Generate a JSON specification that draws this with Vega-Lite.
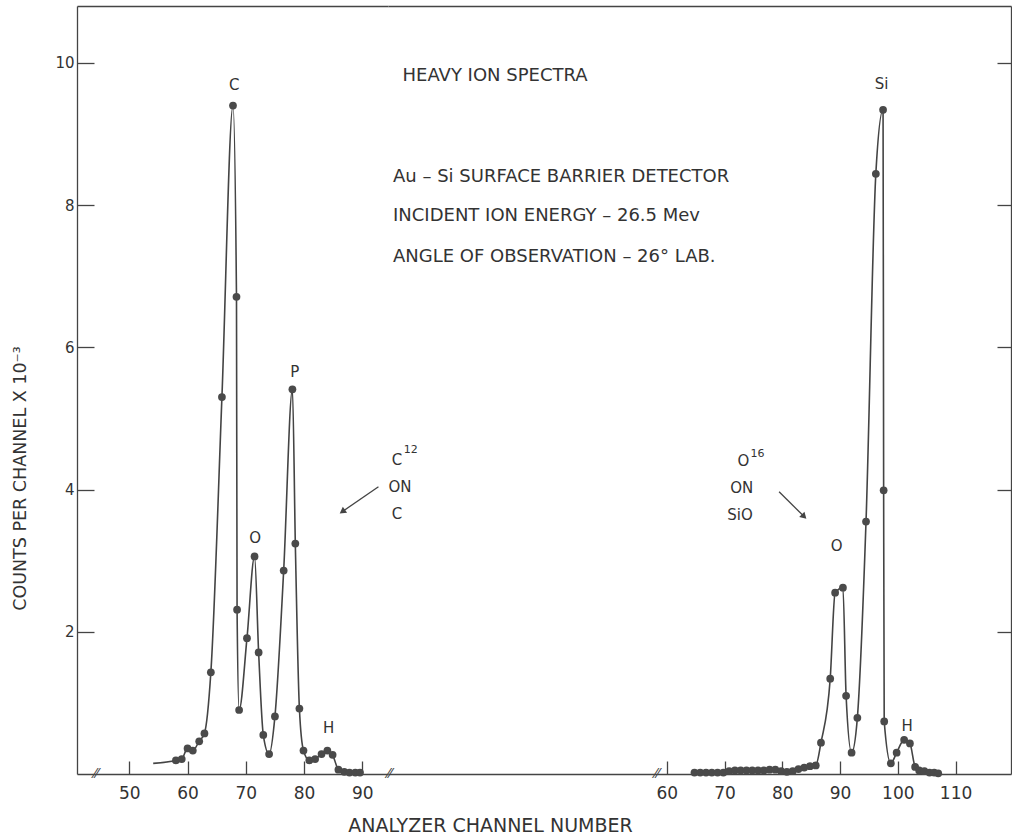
{
  "$schema": "https://vega.github.io/schema/vega-lite/v6.json",
  "background": "white",
  "padding": {"left": 11, "top": 6, "right": 0, "bottom": 0},
  "bounds": "flush",
  "spacing": 0,
  "config": {
    "view": {"stroke": null},
    "font": "DejaVu Sans",
    "axis": {"domainColor": "#444", "tickColor": "#444", "labelColor": "#333", "titleColor": "#333", "grid": false, "domainWidth": 1.3, "tickWidth": 1.3, "labelFont": "DejaVu Sans"}
  },
  "datasets": {
    "c12": [
      {"channel": 54.1, "counts": 0.15}, {"channel": 58.0, "counts": 0.19}, {"channel": 59.0, "counts": 0.21},
      {"channel": 60.0, "counts": 0.36}, {"channel": 60.9, "counts": 0.33}, {"channel": 62.0, "counts": 0.46},
      {"channel": 62.9, "counts": 0.57}, {"channel": 64.0, "counts": 1.43}, {"channel": 65.9, "counts": 5.30},
      {"channel": 67.8, "counts": 9.40}, {"channel": 68.4, "counts": 6.71}, {"channel": 68.5, "counts": 2.31},
      {"channel": 68.85, "counts": 0.90}, {"channel": 70.2, "counts": 1.91}, {"channel": 71.5, "counts": 3.06},
      {"channel": 72.2, "counts": 1.71}, {"channel": 73.0, "counts": 0.55}, {"channel": 74.0, "counts": 0.28},
      {"channel": 75.0, "counts": 0.81}, {"channel": 76.5, "counts": 2.86}, {"channel": 78.0, "counts": 5.41},
      {"channel": 78.5, "counts": 3.24}, {"channel": 79.2, "counts": 0.92}, {"channel": 79.9, "counts": 0.33},
      {"channel": 80.9, "counts": 0.19}, {"channel": 81.9, "counts": 0.21}, {"channel": 83.0, "counts": 0.28},
      {"channel": 84.0, "counts": 0.33}, {"channel": 84.9, "counts": 0.27}, {"channel": 85.9, "counts": 0.06},
      {"channel": 86.9, "counts": 0.03}, {"channel": 87.8, "counts": 0.02}, {"channel": 88.8, "counts": 0.02},
      {"channel": 89.6, "counts": 0.02}
    ],
    "o16": [
      {"channel": 64.8, "counts": 0.02}, {"channel": 65.8, "counts": 0.02}, {"channel": 66.8, "counts": 0.02},
      {"channel": 67.8, "counts": 0.02}, {"channel": 68.8, "counts": 0.02}, {"channel": 69.8, "counts": 0.02},
      {"channel": 70.8, "counts": 0.04}, {"channel": 71.8, "counts": 0.05}, {"channel": 72.8, "counts": 0.05},
      {"channel": 73.8, "counts": 0.05}, {"channel": 74.8, "counts": 0.05}, {"channel": 75.8, "counts": 0.05},
      {"channel": 76.8, "counts": 0.05}, {"channel": 77.8, "counts": 0.06}, {"channel": 78.8, "counts": 0.06},
      {"channel": 79.8, "counts": 0.04}, {"channel": 80.8, "counts": 0.03}, {"channel": 81.8, "counts": 0.04},
      {"channel": 82.8, "counts": 0.07}, {"channel": 83.8, "counts": 0.09}, {"channel": 84.8, "counts": 0.11},
      {"channel": 85.8, "counts": 0.12}, {"channel": 86.7, "counts": 0.44}, {"channel": 88.3, "counts": 1.34},
      {"channel": 89.15, "counts": 2.55}, {"channel": 90.5, "counts": 2.62}, {"channel": 91.05, "counts": 1.10},
      {"channel": 92.0, "counts": 0.30}, {"channel": 93.0, "counts": 0.79}, {"channel": 94.5, "counts": 3.55},
      {"channel": 96.2, "counts": 8.44}, {"channel": 97.45, "counts": 9.34}, {"channel": 97.55, "counts": 3.99},
      {"channel": 97.65, "counts": 0.74}, {"channel": 98.8, "counts": 0.15}, {"channel": 99.8, "counts": 0.30},
      {"channel": 101.1, "counts": 0.48}, {"channel": 102.1, "counts": 0.43}, {"channel": 103.0, "counts": 0.10},
      {"channel": 103.7, "counts": 0.05}, {"channel": 104.6, "counts": 0.04}, {"channel": 105.5, "counts": 0.02},
      {"channel": 106.3, "counts": 0.02}, {"channel": 107.0, "counts": 0.01}
    ],
    "leftPeaks": [
      {"channel": 68.0, "counts": 9.69, "label": "C"},
      {"channel": 71.6, "counts": 3.32, "label": "O"},
      {"channel": 78.4, "counts": 5.66, "label": "P"},
      {"channel": 84.2, "counts": 0.65, "label": "H"}
    ],
    "leftArrow": [{"xStart": 92.77, "yStart": 4.04, "xEnd": 86.57, "yEnd": 3.69}],
    "leftBreaks": [{"channel": 44.3, "counts": 0}],
    "rightBreaks": [{"channel": 12.0, "counts": 0}, {"channel": 58.3, "counts": 0}],
    "rightTitle": [{"channel": 30.27, "counts": 9.82, "label": "HEAVY ION SPECTRA"}],
    "rightNotes": [
      {"channel": 12.61, "counts": 8.39, "label": "Au – Si SURFACE BARRIER DETECTOR"},
      {"channel": 12.61, "counts": 7.85, "label": "INCIDENT ION ENERGY – 26.5 Mev"},
      {"channel": 12.61, "counts": 7.27, "label": "ANGLE OF OBSERVATION – 26° LAB."}
    ],
    "rightPeaks": [
      {"channel": 97.2, "counts": 9.71, "label": "Si"},
      {"channel": 89.4, "counts": 3.20, "label": "O"},
      {"channel": 101.6, "counts": 0.68, "label": "H"}
    ],
    "rightAnnot": [
      {"channel": 13.3, "counts": 4.42, "label": "C"},
      {"channel": 13.8, "counts": 4.03, "label": "ON"},
      {"channel": 13.3, "counts": 3.66, "label": "C"},
      {"channel": 73.28, "counts": 4.40, "label": "O"},
      {"channel": 72.99, "counts": 4.02, "label": "ON"},
      {"channel": 72.69, "counts": 3.64, "label": "SiO"}
    ],
    "rightSup": [
      {"channel": 15.7, "counts": 4.55, "label": "12"},
      {"channel": 75.7, "counts": 4.50, "label": "16"}
    ],
    "rightArrow": [{"xStart": 79.45, "yStart": 3.97, "xEnd": 83.78, "yEnd": 3.62}]
  },
  "hconcat": [
    {
      "width": 311,
      "height": 768,
      "resolve": {"axis": {"x": "independent"}},
      "layer": [
        {
          "data": {"name": "c12"},
          "mark": {"type": "line", "interpolate": "monotone", "color": "#444", "strokeWidth": 1.6},
          "encoding": {
            "x": {"field": "channel", "type": "quantitative", "scale": {"domain": [41.02, 94.41], "nice": false, "zero": false},
              "axis": {"orient": "bottom", "values": [50, 60, 70, 80, 90], "format": "d", "tickSize": -13, "labelPadding": 24, "labelFontSize": 17, "labelFlush": false,
                "title": "ANALYZER CHANNEL NUMBER", "titleFont": "DejaVu Sans", "titleFontSize": 19, "titleFontWeight": "normal",
                "titleX": 413, "titleY": 51, "titleAlign": "center", "titleBaseline": "middle"}},
            "y": {"field": "counts", "type": "quantitative", "scale": {"domain": [0, 10.8], "nice": false},
              "axis": {"orient": "left", "values": [2, 4, 6, 8, 10], "format": "d", "tickSize": -17, "labelPadding": 20, "labelFontSize": 15,
                "title": "COUNTS PER CHANNEL X 10⁻³", "titleFont": "DejaVu Sans", "titleFontSize": 17.5, "titleFontWeight": "normal",
                "titleX": -57, "titleY": 472, "titleAngle": 270, "titleAlign": "center", "titleBaseline": "middle"}}
          }
        },
        {
          "data": {"name": "c12"},
          "transform": [{"filter": "datum.channel >= 55"}],
          "mark": {"type": "point", "filled": true, "size": 60, "color": "#4a4a4a", "opacity": 1},
          "encoding": {
            "x": {"field": "channel", "type": "quantitative", "scale": {"domain": [41.02, 94.41], "nice": false, "zero": false},
              "axis": {"orient": "top", "ticks": false, "labels": false, "title": null, "domain": true}},
            "y": {"field": "counts", "type": "quantitative", "scale": {"domain": [0, 10.8], "nice": false}}
          }
        },
        {
          "data": {"name": "leftPeaks"},
          "mark": {"type": "text", "fontSize": 15, "color": "#333", "baseline": "middle"},
          "encoding": {
            "x": {"field": "channel", "type": "quantitative", "scale": {"domain": [41.02, 94.41], "nice": false, "zero": false}, "axis": null},
            "y": {"field": "counts", "type": "quantitative", "scale": {"domain": [0, 10.8], "nice": false}},
            "text": {"field": "label"}
          }
        },
        {
          "data": {"name": "leftArrow"},
          "mark": {"type": "rule", "color": "#444", "strokeWidth": 1.3},
          "encoding": {
            "x": {"field": "xStart", "type": "quantitative", "scale": {"domain": [41.02, 94.41], "nice": false, "zero": false}, "axis": null},
            "y": {"field": "yStart", "type": "quantitative", "scale": {"domain": [0, 10.8], "nice": false}},
            "x2": {"field": "xEnd"},
            "y2": {"field": "yEnd"}
          }
        },
        {
          "data": {"name": "leftArrow"},
          "mark": {"type": "point", "shape": "triangle-up", "filled": true, "size": 55, "angle": 235, "color": "#444", "opacity": 1},
          "encoding": {
            "x": {"field": "xEnd", "type": "quantitative", "scale": {"domain": [41.02, 94.41], "nice": false, "zero": false}, "axis": null},
            "y": {"field": "yEnd", "type": "quantitative", "scale": {"domain": [0, 10.8], "nice": false}}
          }
        },
        {
          "data": {"name": "leftBreaks"},
          "mark": {"type": "text", "fontSize": 14, "color": "#444", "baseline": "middle", "text": "⁄⁄"},
          "encoding": {
            "x": {"field": "channel", "type": "quantitative", "scale": {"domain": [41.02, 94.41], "nice": false, "zero": false}, "axis": null},
            "y": {"field": "counts", "type": "quantitative", "scale": {"domain": [0, 10.8], "nice": false}}
          }
        }
      ]
    },
    {
      "width": 623,
      "height": 768,
      "resolve": {"axis": {"x": "independent"}},
      "layer": [
        {
          "data": {"name": "o16"},
          "mark": {"type": "line", "interpolate": "monotone", "color": "#444", "strokeWidth": 1.6},
          "encoding": {
            "x": {"field": "channel", "type": "quantitative", "scale": {"domain": [11.74, 119.6], "nice": false, "zero": false},
              "axis": {"orient": "bottom", "values": [60, 70, 80, 90, 100, 110], "format": "d", "tickSize": -13, "labelPadding": 24, "labelFontSize": 17, "labelFlush": false, "title": null}},
            "y": {"field": "counts", "type": "quantitative", "scale": {"domain": [0, 10.8], "nice": false},
              "axis": {"orient": "right", "values": [2, 4, 6, 8, 10], "tickSize": -14, "labels": false, "title": null}}
          }
        },
        {
          "data": {"name": "o16"},
          "mark": {"type": "point", "filled": true, "size": 60, "color": "#4a4a4a", "opacity": 1},
          "encoding": {
            "x": {"field": "channel", "type": "quantitative", "scale": {"domain": [11.74, 119.6], "nice": false, "zero": false},
              "axis": {"orient": "top", "ticks": false, "labels": false, "title": null, "domain": true}},
            "y": {"field": "counts", "type": "quantitative", "scale": {"domain": [0, 10.8], "nice": false}}
          }
        },
        {
          "data": {"name": "rightTitle"},
          "mark": {"type": "text", "fontSize": 18, "color": "#333", "baseline": "middle", "align": "center"},
          "encoding": {
            "x": {"field": "channel", "type": "quantitative", "scale": {"domain": [11.74, 119.6], "nice": false, "zero": false}, "axis": null},
            "y": {"field": "counts", "type": "quantitative", "scale": {"domain": [0, 10.8], "nice": false}},
            "text": {"field": "label"}
          }
        },
        {
          "data": {"name": "rightNotes"},
          "mark": {"type": "text", "fontSize": 18, "color": "#333", "baseline": "middle", "align": "left"},
          "encoding": {
            "x": {"field": "channel", "type": "quantitative", "scale": {"domain": [11.74, 119.6], "nice": false, "zero": false}, "axis": null},
            "y": {"field": "counts", "type": "quantitative", "scale": {"domain": [0, 10.8], "nice": false}},
            "text": {"field": "label"}
          }
        },
        {
          "data": {"name": "rightPeaks"},
          "mark": {"type": "text", "fontSize": 15, "color": "#333", "baseline": "middle", "align": "center"},
          "encoding": {
            "x": {"field": "channel", "type": "quantitative", "scale": {"domain": [11.74, 119.6], "nice": false, "zero": false}, "axis": null},
            "y": {"field": "counts", "type": "quantitative", "scale": {"domain": [0, 10.8], "nice": false}},
            "text": {"field": "label"}
          }
        },
        {
          "data": {"name": "rightAnnot"},
          "mark": {"type": "text", "fontSize": 15, "color": "#333", "baseline": "middle", "align": "center"},
          "encoding": {
            "x": {"field": "channel", "type": "quantitative", "scale": {"domain": [11.74, 119.6], "nice": false, "zero": false}, "axis": null},
            "y": {"field": "counts", "type": "quantitative", "scale": {"domain": [0, 10.8], "nice": false}},
            "text": {"field": "label"}
          }
        },
        {
          "data": {"name": "rightSup"},
          "mark": {"type": "text", "fontSize": 11, "color": "#333", "baseline": "middle", "align": "center"},
          "encoding": {
            "x": {"field": "channel", "type": "quantitative", "scale": {"domain": [11.74, 119.6], "nice": false, "zero": false}, "axis": null},
            "y": {"field": "counts", "type": "quantitative", "scale": {"domain": [0, 10.8], "nice": false}},
            "text": {"field": "label"}
          }
        },
        {
          "data": {"name": "rightArrow"},
          "mark": {"type": "rule", "color": "#444", "strokeWidth": 1.3},
          "encoding": {
            "x": {"field": "xStart", "type": "quantitative", "scale": {"domain": [11.74, 119.6], "nice": false, "zero": false}, "axis": null},
            "y": {"field": "yStart", "type": "quantitative", "scale": {"domain": [0, 10.8], "nice": false}},
            "x2": {"field": "xEnd"},
            "y2": {"field": "yEnd"}
          }
        },
        {
          "data": {"name": "rightArrow"},
          "mark": {"type": "point", "shape": "triangle-up", "filled": true, "size": 55, "angle": 135, "color": "#444", "opacity": 1},
          "encoding": {
            "x": {"field": "xEnd", "type": "quantitative", "scale": {"domain": [11.74, 119.6], "nice": false, "zero": false}, "axis": null},
            "y": {"field": "yEnd", "type": "quantitative", "scale": {"domain": [0, 10.8], "nice": false}}
          }
        },
        {
          "data": {"name": "rightBreaks"},
          "mark": {"type": "text", "fontSize": 14, "color": "#444", "baseline": "middle", "text": "⁄⁄"},
          "encoding": {
            "x": {"field": "channel", "type": "quantitative", "scale": {"domain": [11.74, 119.6], "nice": false, "zero": false}, "axis": null},
            "y": {"field": "counts", "type": "quantitative", "scale": {"domain": [0, 10.8], "nice": false}}
          }
        }
      ]
    }
  ]
}
